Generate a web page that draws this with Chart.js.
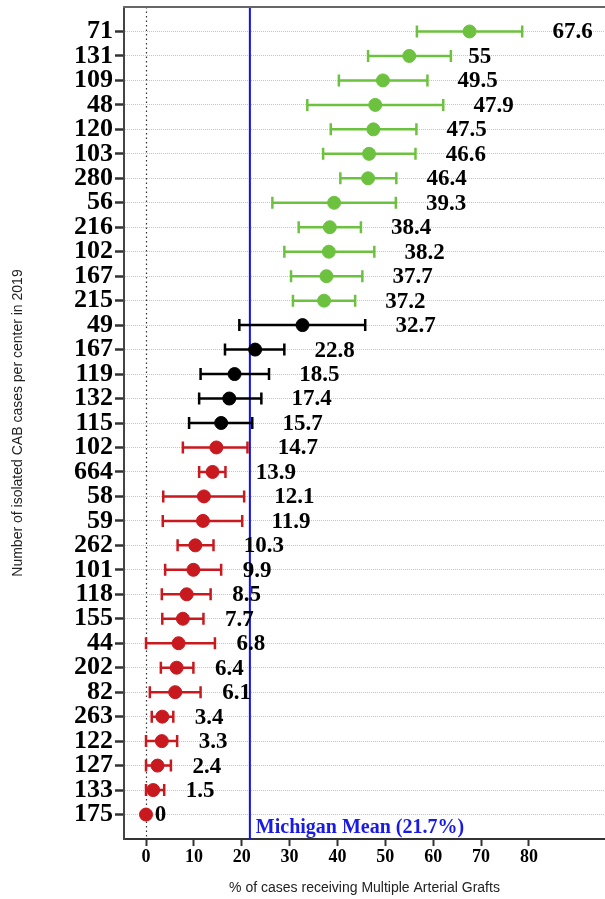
<!DOCTYPE html>
<html>
<head>
<meta charset="utf-8">
<script src="https://cdn.jsdelivr.net/npm/chart.js@4.4.0/dist/chart.umd.min.js"></script>
<style>
    html, body { margin: 0; padding: 0; background: #fff; }
    canvas { display: block; }
</style>
</head>
<body>
<canvas id="chartGrafts" width="605" height="899"></canvas>
<script>
// isolated CAB cases per center (row labels, top to bottom)
const centers = ['71', '131', '109', '48', '120', '103', '280', '56', '216', '102', '167', '215',
    '49', '167', '119', '132', '115',
    '102', '664', '58', '59', '262', '101', '118', '155', '44', '202', '82', '263', '122', '127', '133', '175'];

// % of cases receiving multiple arterial grafts, with CI
const pct = [67.6, 55, 49.5, 47.9, 47.5, 46.6, 46.4, 39.3, 38.4, 38.2, 37.7, 37.2,
    32.7, 22.8, 18.5, 17.4, 15.7,
    14.7, 13.9, 12.1, 11.9, 10.3, 9.9, 8.5, 7.7, 6.8, 6.4, 6.1, 3.4, 3.3, 2.4, 1.5, 0];
const ciLow = [56.6, 46.4, 40.3, 33.7, 38.6, 37.0, 40.6, 26.4, 31.9, 28.9, 30.3, 30.7,
    19.5, 16.5, 11.4, 11.1, 9.0,
    7.7, 11.1, 3.6, 3.5, 6.6, 4.0, 3.3, 3.4, 0, 3.1, 0.8, 1.2, 0, 0, 0, 0];
const ciHigh = [78.6, 63.7, 58.8, 62.1, 56.5, 56.3, 52.3, 52.2, 44.9, 47.7, 45.2, 43.7,
    45.8, 28.9, 25.7, 24.1, 22.2,
    21.2, 16.6, 20.5, 20.1, 14.1, 15.7, 13.5, 12.0, 14.4, 9.9, 11.4, 5.7, 6.5, 5.2, 3.8, 0];
const tier = [
    'above', 'above', 'above', 'above', 'above', 'above', 'above', 'above', 'above', 'above', 'above', 'above',
    'mid', 'mid', 'mid', 'mid', 'mid',
    'below', 'below', 'below', 'below', 'below', 'below', 'below', 'below', 'below', 'below', 'below',
    'below', 'below', 'below', 'below', 'below'
];
const michiganMean = 21.7;
const xTicks = [0, 10, 20, 30, 40, 50, 60, 70, 80];

const TIER_COLORS = { above: '#6cc23e', mid: '#000000', below: '#c8191f' };
const SERIF = '"Liberation Serif", "Times New Roman", serif';
const SANS = '"Liberation Sans", Arial, sans-serif';

const pointColors = tier.map(t => TIER_COLORS[t]);

const overlay = {
    id: 'overlay',
    beforeDatasetsDraw(chart) {
        const { ctx, chartArea: a, scales: { x, y } } = chart;
        ctx.save();
        // dotted zero line
        ctx.strokeStyle = '#333';
        ctx.lineWidth = 1.2;
        ctx.setLineDash([1.5, 3]);
        const x0 = Math.round(x.getPixelForValue(0)) + 0.5;
        ctx.beginPath();
        ctx.moveTo(x0, a.top);
        ctx.lineTo(x0, a.bottom);
        ctx.stroke();
        ctx.setLineDash([]);

        // state mean
        const xm = x.getPixelForValue(michiganMean);
        ctx.strokeStyle = '#1010f0';
        ctx.lineWidth = 2;
        ctx.beginPath();
        ctx.moveTo(xm, a.top);
        ctx.lineTo(xm, a.bottom);
        ctx.stroke();

        // error bars
        ctx.lineWidth = 2.5;
        centers.forEach((c, i) => {
            if (ciHigh[i] === ciLow[i]) return;
            const py = y.getPixelForValue(i);
            const lo = x.getPixelForValue(ciLow[i]);
            const hi = x.getPixelForValue(ciHigh[i]);
            ctx.strokeStyle = pointColors[i];
            ctx.beginPath();
            ctx.moveTo(lo, py);
            ctx.lineTo(hi, py);
            ctx.moveTo(lo, py - 6);
            ctx.lineTo(lo, py + 6);
            ctx.moveTo(hi, py - 6);
            ctx.lineTo(hi, py + 6);
            ctx.stroke();
        });
        ctx.restore();
    },
    afterDatasetsDraw(chart) {
        const { ctx, chartArea: a, scales: { x, y } } = chart;
        ctx.save();
        // value labels
        ctx.fillStyle = '#000';
        ctx.font = 'bold 23px ' + SERIF;
        ctx.textBaseline = 'middle';
        ctx.textAlign = 'left';
        pct.forEach((v, i) => {
            const txt = String(v);
            const w = ctx.measureText(txt).width;
            ctx.fillText(txt, x.getPixelForValue(ciHigh[i]) + 0.75 * w, y.getPixelForValue(i) + 1);
        });

        // mean label
        ctx.fillStyle = '#1a1ae6';
        ctx.font = 'bold 20px ' + SERIF;
        ctx.textBaseline = 'alphabetic';
        ctx.fillText('Michigan Mean (' + michiganMean + '%)', x.getPixelForValue(michiganMean) + 6, a.bottom - 6);

        // top frame line
        ctx.strokeStyle = '#666';
        ctx.lineWidth = 2;
        ctx.beginPath();
        ctx.moveTo(a.left - 1, a.top);
        ctx.lineTo(a.right, a.top);
        ctx.stroke();
        ctx.restore();
    }
};

new Chart(document.getElementById('chartGrafts'), {
    type: 'scatter',
    data: {
        datasets: [{
            data: pct.map((v, i) => ({ x: v, y: i })),
            backgroundColor: pointColors,
            borderColor: pointColors,
            pointRadius: 6.5,
            pointHoverRadius: 6.5
        }]
    },
    options: {
        responsive: false,
        animation: false,
        layout: { autoPadding: false, padding: { top: 7, right: 0, bottom: 0, left: 0 } },
        plugins: {
            legend: { display: false },
            tooltip: { enabled: false }
        },
        scales: {
            x: {
                type: 'linear',
                min: -4.6,
                max: 95.9,
                afterBuildTicks: s => { s.ticks = xTicks.map(v => ({ value: v })); },
                afterFit: s => {
                    s.height = 60;
                    s.paddingLeft = 0;
                    s.paddingRight = 0;
                },
                grid: {
                    drawOnChartArea: false,
                    tickLength: 7,
                    tickWidth: 2,
                    tickColor: '#333'
                },
                border: { color: '#333', width: 2 },
                ticks: {
                    autoSkip: false,
                    maxRotation: 0,
                    padding: 1,
                    color: '#000',
                    font: { family: SERIF, size: 18, weight: 'bold' }
                },
                title: {
                    display: true,
                    text: '% of cases receiving Multiple Arterial Grafts',
                    color: '#222',
                    font: { family: SANS, size: 14 },
                    padding: { top: 0, bottom: 2 }
                }
            },
            y: {
                type: 'linear',
                reverse: true,
                min: -1,
                max: centers.length,
                afterBuildTicks: s => { s.ticks = centers.map((c, i) => ({ value: i })); },
                afterFit: s => {
                    s.width = 124;
                    s.paddingTop = 0;
                    s.paddingBottom = 0;
                },
                grid: {
                    color: '#c4c4c4',
                    lineWidth: 1,
                    tickLength: 9,
                    tickWidth: 2.5,
                    tickColor: '#333',
                    tickBorderDash: [0]
                },
                border: { color: '#444', width: 2, dash: [1, 1] },
                ticks: {
                    autoSkip: false,
                    padding: 2,
                    color: '#000',
                    font: { family: SERIF, size: 26, weight: 'bold' },
                    callback: v => centers[v] ?? ''
                },
                title: {
                    display: true,
                    text: 'Number of isolated CAB cases per center in 2019',
                    color: '#222',
                    font: { family: SANS, size: 14 },
                    padding: { top: 10, bottom: 0 }
                }
            }
        }
    },
    plugins: [overlay]
});
</script>
</body>
</html>
